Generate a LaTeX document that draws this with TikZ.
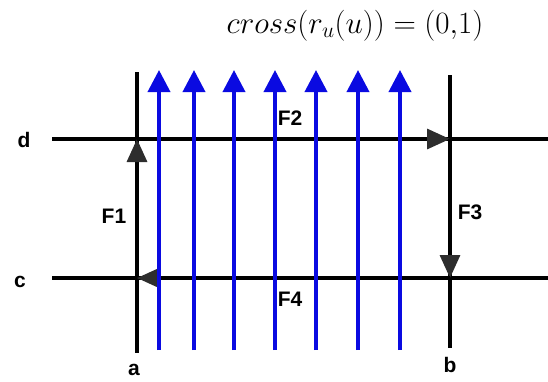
\RequirePackage{fix-cm}
\documentclass[tikz,border=0pt]{standalone}
\usepackage{fontspec}
\newfontfamily\labelfont{Liberation Sans}
\usetikzlibrary{arrows.meta}
\definecolor{flowblue}{RGB}{10,10,225}
\definecolor{tipgray}{RGB}{45,45,45}

\begin{document}
\begin{tikzpicture}[
    x=1pt, y=-1pt,
    wire/.style={line width=3.2pt, black},
    edge/.style={wire, -{Triangle[length=23pt, width=20pt, color=tipgray]}},
    flow/.style={line width=3.8pt, flowblue, -{Triangle[length=22pt, width=22pt]}},
    tag/.style={font=\labelfont\bfseries\fontsize{21}{24}\selectfont, inner sep=0pt}
]
\useasboundingbox (0,0) rectangle (548,381);

\node[inner sep=0pt, anchor=base] (title) at (355,33) {\fontsize{31}{36}\selectfont $cross\Bigl(r_u(u)\Bigr)=(0{,}1)$};

% corners of the loop
\coordinate (da) at (137,139);
\coordinate (db) at (450,139);
\coordinate (ca) at (137,278);
\coordinate (cb) at (450,278);

% ends of the four lines
\coordinate (atop) at (137,72);
\coordinate (abot) at (137,353);
\coordinate (btop) at (450,75);
\coordinate (bbot) at (450,348);
\coordinate (dleft) at (52,139);
\coordinate (dright) at (548,139);
\coordinate (cleft) at (52,278);
\coordinate (cright) at (548,278);

\draw[wire] (atop) -- (abot);
\draw[wire] (btop) -- (bbot);
\draw[wire] (dleft) -- (dright);
\draw[wire] (cleft) -- (cright);

\draw[edge] (ca) -- (da);
\draw[edge] (da) -- (db);
\draw[edge] (db) -- (cb);
\draw[edge] (cb) -- (ca);

\foreach \x [count=\i] in {159,194,234,275,316,358,400} {
    \coordinate (u\i) at (\x,350);
    \coordinate (v\i) at (\x,70);
    \draw[flow] (u\i) -- (v\i);
}

\node[tag] (dlab) at (24,140) {d};
\node[tag] (clab) at (20,282) {c};
\node[tag] (alab) at (134,370) {a};
\node[tag] (blab) at (450,365) {b};
\node[tag] (f1) at (114,216) {F1};
\node[tag] (f2) at (290,118) {F2};
\node[tag] (f3) at (470,212) {F3};
\node[tag] (f4) at (290,299) {F4};
\end{tikzpicture}
\end{document}
